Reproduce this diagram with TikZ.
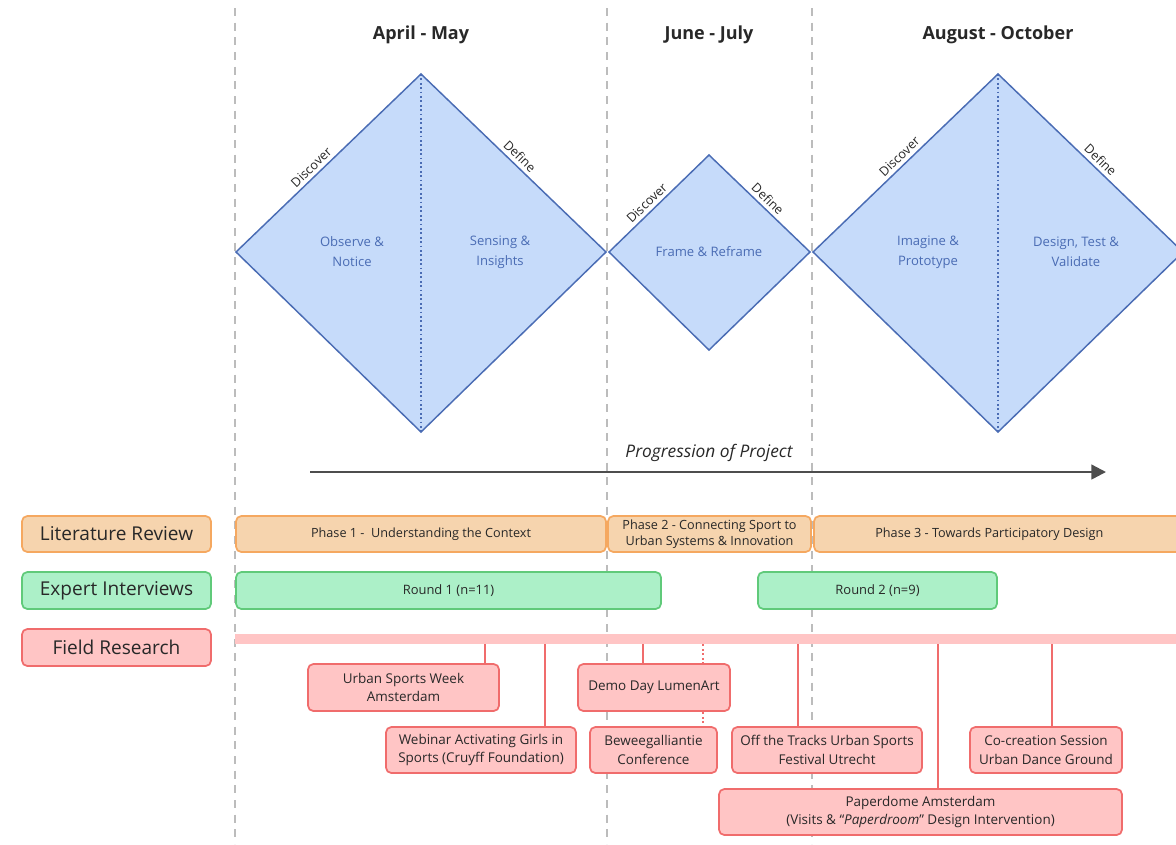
\documentclass[tikz,border=0pt]{standalone}
\usepackage{fontspec}
\setmainfont{Open Sans}
\usetikzlibrary{arrows.meta}
\definecolor{dfill}{RGB}{198,219,250}
\definecolor{dline}{RGB}{74,108,180}
\definecolor{ofill}{RGB}{246,212,174}
\definecolor{oline}{RGB}{245,168,96}
\definecolor{gfill}{RGB}{172,240,200}
\definecolor{gline}{RGB}{96,202,122}
\definecolor{pfill}{RGB}{255,197,197}
\definecolor{pline}{RGB}{240,108,108}
\definecolor{guide}{RGB}{188,188,188}
\definecolor{txt}{RGB}{40,40,40}
\definecolor{arr}{RGB}{78,78,78}
% rectangular node given by its corner coordinates (in pixel units)
\newcommand\boxat[6]{%
  \node[#1, minimum width={(#5-#3)*0.75pt}, minimum height={(#6-#4)*0.75pt}]
    (#2) at ({(#3+#5)/2},{(#4+#6)/2})}
\begin{document}
\begin{tikzpicture}[x=0.75pt,y=-0.75pt,
  basebox/.style={draw, rounded corners=4pt, line width=1.3pt, inner sep=0pt,
    align=center, text=txt},
  lab/.style={basebox, font=\fontsize{14.3}{17}\selectfont},
  ophase/.style={basebox, fill=ofill, draw=oline, font=\fontsize{9.5}{13}\selectfont},
  gphase/.style={basebox, fill=gfill, draw=gline, font=\fontsize{9.7}{12}\selectfont},
  ev/.style={basebox, fill=pfill, draw=pline, font=\fontsize{10.1}{14}\selectfont},
  conn/.style={draw=pline, line width=1.4pt},
  dconn/.style={draw=pline, line width=1.4pt, dotted},
  guideline/.style={draw=guide, line width=1pt, dash pattern=on 6pt off 5pt},
  diam/.style={fill=dfill, draw=dline, line width=1.1pt, line join=miter},
  split/.style={draw=dline, line width=1.3pt, dotted},
  dtext/.style={text=dline, align=center, font=\fontsize{9.8}{15}\selectfont},
  edge/.style={sloped, above, inner sep=3pt, text=txt, font=\fontsize{9.5}{11}\selectfont},
  head/.style={text=txt, font=\bfseries\fontsize{13.5}{16}\selectfont},
]
\useasboundingbox (0,0) rectangle (1176,844);

% time guides
\coordinate (g1t) at (235,8);   \coordinate (g1b) at (235,844);
\coordinate (g2t) at (607,8);   \coordinate (g2b) at (607,844);
\coordinate (g3t) at (812,8);   \coordinate (g3b) at (812,844);
\draw[guideline] (g1t) -- (g1b);
\draw[guideline] (g2t) -- (g2b);
\draw[guideline] (g3t) -- (g3b);

% period headings
\node[head] (h1) at (421,35) {April - May};
\node[head] (h2) at (709,35) {June - July};
\node[head] (h3) at (998,35) {August - October};

% first diamond
\coordinate (d1l) at (236,252); \coordinate (d1t) at (421,74);
\coordinate (d1r) at (606,252); \coordinate (d1b) at (421,432);
\draw[diam] (d1l) -- (d1t) -- (d1r) -- (d1b) -- cycle;
\draw[split] (d1t) -- (d1b);
\path (d1l) -- node[edge, pos=0.44] (d1dis) {Discover} (d1t);
\path (d1t) -- node[edge, pos=0.5] (d1def) {Define} (d1r);
\node[dtext] (d1a) at (352,252) {Observe \&\\Notice};
\node[dtext] (d1c) at (500,252) {Sensing \&\\Insights};

% second diamond
\coordinate (d2l) at (609,252); \coordinate (d2t) at (709,155);
\coordinate (d2r) at (810,252); \coordinate (d2b) at (709,350);
\draw[diam] (d2l) -- (d2t) -- (d2r) -- (d2b) -- cycle;
\path (d2l) -- node[edge, pos=0.44] (d2dis) {Discover} (d2t);
\path (d2t) -- node[edge, pos=0.52] (d2def) {Define} (d2r);
\node[dtext] (d2a) at (709,252) {Frame \& Reframe};

% third diamond
\coordinate (d3l) at (813,252); \coordinate (d3t) at (998,74);
\coordinate (d3r) at (1183,252); \coordinate (d3b) at (998,432);
\draw[diam] (d3l) -- (d3t) -- (d3r) -- (d3b) -- cycle;
\draw[split] (d3t) -- (d3b);
\path (d3l) -- node[edge, pos=0.5] (d3dis) {Discover} (d3t);
\path (d3t) -- node[edge, pos=0.52] (d3def) {Define} (d3r);
\node[dtext] (d3a) at (928,252) {Imagine \&\\Prototype};
\node[dtext] (d3c) at (1076,252) {Design, Test \&\\Validate};

% progression arrow
\coordinate (ps) at (310,472);
\coordinate (pe) at (1106,472);
\draw[draw=arr, line width=1.8pt, -{Triangle[length=11pt, width=11pt]}] (ps) -- (pe);
\node[text=txt, font=\itshape\fontsize{13}{16}\selectfont] (prog) at (709,453) {Progression of Project};

% row labels
\boxat{lab, fill=ofill, draw=oline}{lr}{22}{516}{211}{552} {Literature Review};
\boxat{lab, fill=gfill, draw=gline}{ei}{22}{572}{211}{609} {Expert Interviews};
\boxat{lab, fill=pfill, draw=pline}{fr}{22}{629}{211}{666} {Field Research};

% literature phases
\boxat{ophase}{ph1}{236}{516}{606}{552} {Phase 1 -\ \ Understanding the Context};
\boxat{ophase}{ph2}{608}{516}{811}{552} {Phase 2 - Connecting Sport to\\[-1pt]Urban Systems \& Innovation};
\boxat{ophase}{ph3}{814}{516}{1190}{552} {\hspace*{-19pt}Phase 3 - Towards Participatory Design};

% interview rounds
\boxat{gphase}{r1}{236}{572}{661}{609} {Round 1 (n=11)};
\boxat{gphase}{r2}{758}{572}{997}{609} {Round 2 (n=9)};

% field research bar
\boxat{fill=pfill, inner sep=0pt}{fbar}{235}{634}{1190}{644} {};

% field events
\boxat{ev}{bwg}{590}{727}{717}{773} {Beweegalliantie\\Conference};
\draw[dconn] (fbar.south -| 703,0) -- (bwg.north -| 703,0);
\boxat{ev}{usw}{308}{664}{499}{711} {Urban Sports Week\\Amsterdam};
\boxat{ev}{web}{386}{727}{576}{773} {Webinar Activating Girls in\\Sports (Cruyff Foundation)};
\boxat{ev}{demo}{578}{664}{730}{711} {Demo Day LumenArt};
\boxat{ev}{off}{732}{727}{922}{773} {Off the Tracks Urban Sports\\Festival Utrecht};
\boxat{ev}{cocr}{970}{727}{1122}{773} {Co-creation Session\\Urban Dance Ground};
\boxat{ev}{pap}{719}{789}{1122}{835} {Paperdome Amsterdam\\(Visits \& ``\textit{Paperdroom}'' Design Intervention)};

\draw[conn] (fbar.south -| 485,0) -- (usw.north -| 485,0);
\draw[conn] (fbar.south -| 545,0) -- (web.north -| 545,0);
\draw[conn] (fbar.south -| 643,0) -- (demo.north -| 643,0);
\draw[conn] (fbar.south -| 798,0) -- (off.north -| 798,0);
\draw[conn] (fbar.south -| 938,0) -- (pap.north -| 938,0);
\draw[conn] (fbar.south -| 1052,0) -- (cocr.north -| 1052,0);
\end{tikzpicture}
\end{document}
